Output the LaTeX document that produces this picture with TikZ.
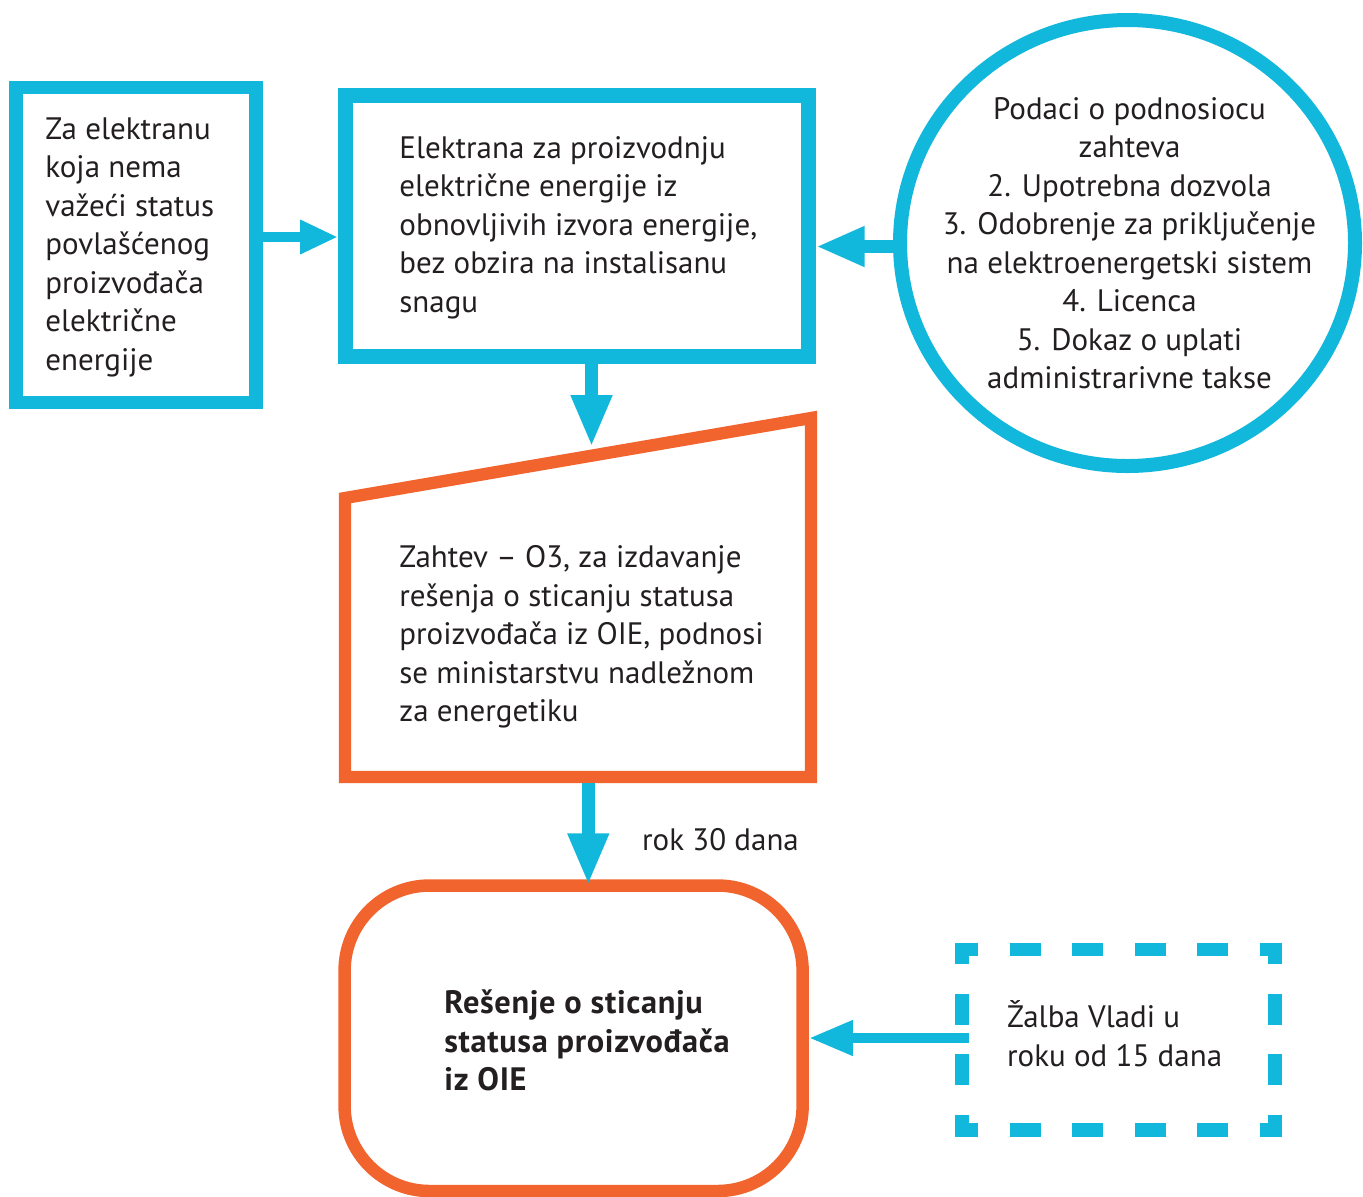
\documentclass[tikz,border=0pt]{standalone}
\usepackage{fontspec}
\setmainfont{PT Sans}
\newfontface\debeli{PT Sans Bold}[LetterSpace=2.0]
\usetikzlibrary{arrows.meta,shapes.geometric}
\definecolor{plava}{RGB}{18,184,220}
\definecolor{narandz}{RGB}{242,100,46}
\definecolor{tekst}{RGB}{35,31,32}
\begin{document}
\begin{tikzpicture}[x=0.5pt,y=-0.5pt,
  txt/.style={inner sep=0,text=tekst,font=\fontsize{15.5}{19.25}\selectfont,align=left,anchor=base west},
  kutija/.style={draw=#1,inner sep=0,fill=white},
  strelica/.style n args={3}{draw=plava,line width=#1,-{Triangle[length=#2,width=#3]}},
  isprek/.style={draw=plava,line width=6.75pt,line cap=rect}]
\useasboundingbox (0,0) rectangle (1363,1196);
\node[kutija=plava,line width=6.75pt,minimum width=120pt,minimum height=157.5pt] (stat) at (136,245) {};
\node[kutija=plava,line width=7.5pt,minimum width=231.5pt,minimum height=130.5pt] (elek) at (577,226) {};
\node[kutija=plava,ellipse,line width=7pt,minimum width=227.5pt,minimum height=223pt] (podaci) at (1127.5,243) {};
\draw[narandz,line width=6.15pt] (345,498) -- (811,418) -- (811,777) -- (345,777) -- cycle;
\coordinate (ztop) at (591.5,447);
\coordinate (zdno) at (588.3,783);
\node[kutija=narandz,line width=6.25pt,rounded corners=42.5pt,minimum width=229pt,minimum height=152.75pt] (resenje) at (573.6,1038.25) {};
\node[inner sep=0,outer sep=0,minimum width=149.5pt,minimum height=83.5pt] (zalba) at (1118.5,1039.75) {};
\foreach \xa/\ya/\xb/\yb in {962/949.5/1275/949.5,962/1130/1275/1130}
  \draw[isprek,dash pattern=on 8.75pt off 22.5pt,dash phase=4.125pt] (\xa,\ya) -- (\xb,\yb);
\foreach \xa/\ya/\xb/\yb in {962/949.5/962/1130,1275/949.5/1275/1130}
  \draw[isprek,dash pattern=on 8.75pt off 21.5pt,dash phase=4.75pt] (\xa,\ya) -- (\xb,\yb);
\draw[strelica={5.35pt}{19pt}{16pt}] (stat.east |- 0,237) -- (elek.west |- 0,237);
\draw[strelica={6.5pt}{24.35pt}{18.7pt}] (podaci.west |- 0,246.5) -- (elek.east |- 0,246.5);
\draw[strelica={6.5pt}{26pt}{19pt}] (elek.south -| ztop) -- (ztop);
\draw[strelica={6.5pt}{26pt}{19pt},shorten >=-3pt] (zdno) -- (resenje.north -| zdno);
\draw[strelica={5pt}{22pt}{16.5pt}] (zalba.west |- 0,1038) -- (resenje.east |- 0,1038);
% base = baseline of the last line
\node[txt] (stattxt) at (45,370) {Za elektranu\\koja nema\\važeći status\\povlašćenog\\proizvođača\\električne\\energije};
\node[txt] (elektxt) at (399,312.3) {Elektrana za proizvodnju\\električne energije iz\\obnovljivih izvora energije,\\bez obzira na instalisanu\\snagu};
\node[txt,align=center,anchor=base] (podacitxt) at (1129.5,388.5) {Podaci o podnosiocu\\zahteva\\2. Upotrebna dozvola\\3. Odobrenje za priključenje\\na elektroenergetski sistem\\4. Licenca\\5. Dokaz o uplati\\administrarivne takse};
\node[txt] (zahtevtxt) at (399,721.7) {Zahtev – O3, za izdavanje\\rešenja o sticanju statusa\\proizvođača iz OIE, podnosi\\se ministarstvu nadležnom\\za energetiku};
\node[txt] (rok) at (641.7,850) {rok 30 dana};
\node[txt,font=\fontsize{16.2}{19.25}\debeli] (resenjetxt) at (444,1090.7) {Rešenje o sticanju\\statusa proizvođača\\iz OIE};
\node[txt] (zalbatxt) at (1006.7,1066) {Žalba Vladi u\\roku od 15 dana};
\end{tikzpicture}
\end{document}
